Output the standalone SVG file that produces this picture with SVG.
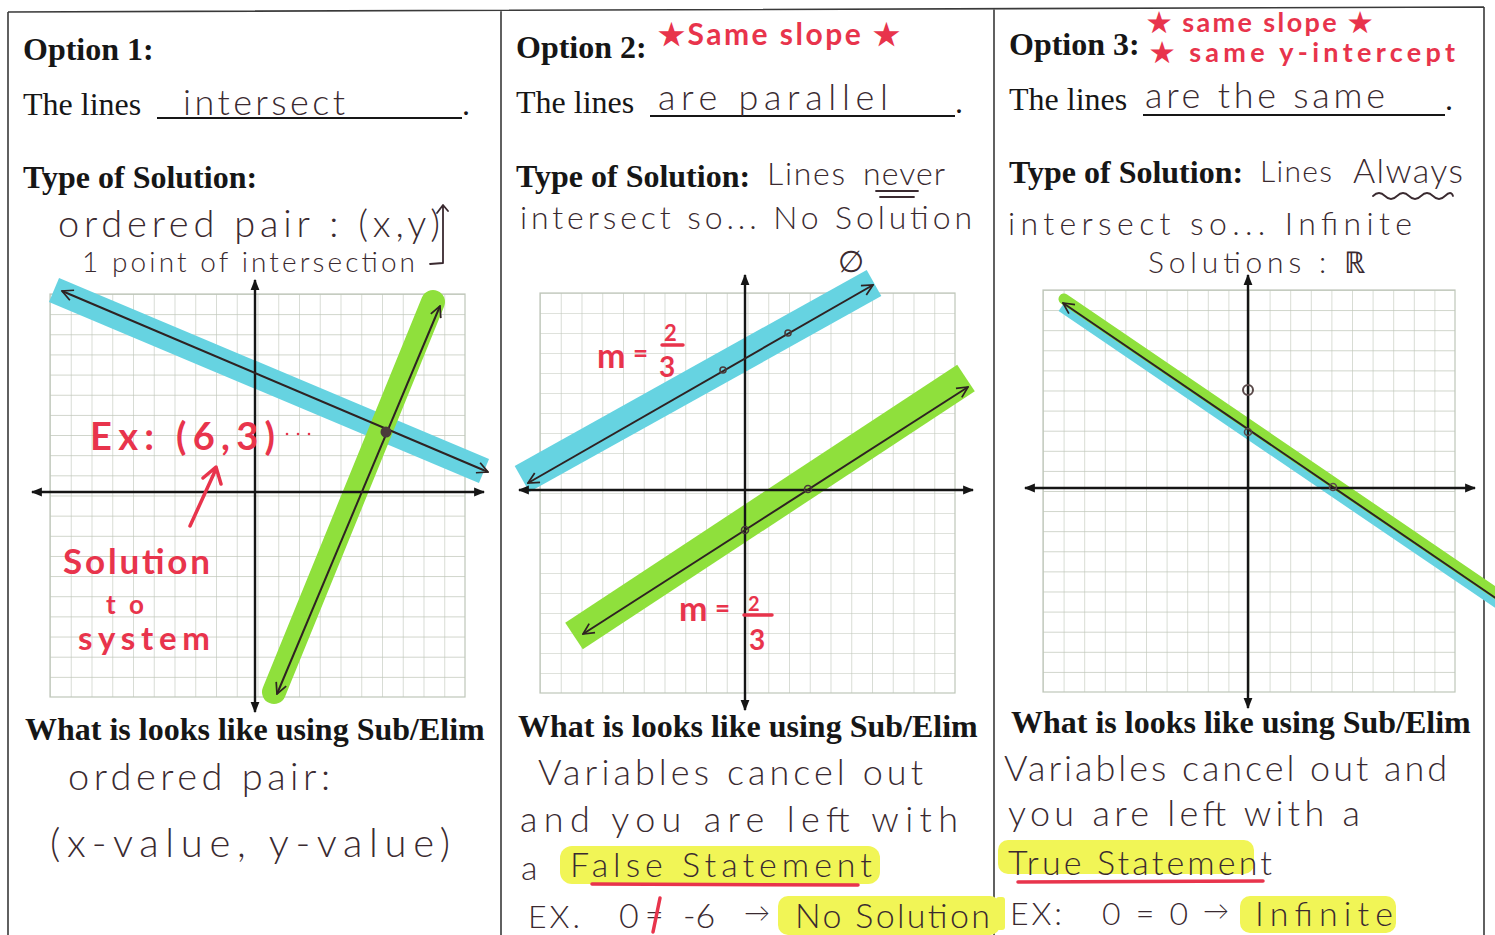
<svg xmlns="http://www.w3.org/2000/svg" width="1495" height="935" viewBox="0 0 1495 935">
<style>
.pt{font-family:"Liberation Serif","Times New Roman",serif;font-size:32px;fill:#161616}
.b{font-weight:bold}
.hw{font-family:Lato,"Open Sans",sans-serif;font-weight:300;fill:#3a2a30}
.rd{font-family:Lato,"Open Sans",sans-serif;font-weight:700;fill:#e8344c}
.frame{stroke:#3a3a3a;stroke-width:1.6;fill:none}
.axis{stroke:#151515;stroke-width:2.4;fill:none}
.ln{stroke:#2e2222;stroke-width:2;fill:none}
.ink{stroke:#3a2a30;stroke-width:1.8;fill:none;stroke-linecap:round;stroke-linejoin:round}
.rink{stroke:#e8344c;stroke-width:3.5;fill:none;stroke-linecap:round;stroke-linejoin:round}
.cy{stroke:#66d3e1;fill:none}
.gr{stroke:#8fe03c;fill:none}
.yl{fill:#f1f556}
.gridedge{fill:none;stroke:#bfc6b9;stroke-width:1.2}
</style>
<defs>
<pattern id="g1" x="50" y="294" width="20.75" height="20.15" patternUnits="userSpaceOnUse"><path d="M0 0H20.75M0 0V20.15" stroke="#bfc6b9" stroke-width="1.2" fill="none"/></pattern>
<pattern id="g2" x="540" y="293" width="20.75" height="20" patternUnits="userSpaceOnUse"><path d="M0 0H20.75M0 0V20" stroke="#bfc6b9" stroke-width="1.2" fill="none"/></pattern>
<pattern id="g3" x="1043" y="290" width="20.6" height="20.1" patternUnits="userSpaceOnUse"><path d="M0 0H20.6M0 0V20.1" stroke="#bfc6b9" stroke-width="1.2" fill="none"/></pattern>
<marker id="ah" viewBox="0 0 10 10" refX="9" refY="5" markerWidth="11" markerHeight="11" markerUnits="userSpaceOnUse" orient="auto-start-reverse"><path d="M0,1 L10,5 L0,9 z" fill="#151515"/></marker>
<marker id="oa" viewBox="0 0 12 12" refX="11" refY="6" markerWidth="13" markerHeight="13" markerUnits="userSpaceOnUse" orient="auto-start-reverse"><path d="M1,1 L11,6 L1,11" fill="none" stroke="#2e2222" stroke-width="1.6"/></marker>
</defs>
<rect width="1495" height="935" fill="#ffffff"/>

<g id="frame">
<path class="frame" d="M8 12 L1484 7 M8 12 V935 M501 10 V935 M994 8 V935 M1484 7 V935"/>
</g>

<g id="panel1">
<text class="pt b" x="23" y="60">Option 1:</text>
<text class="pt" x="23" y="115">The lines</text>
<path d="M157 118 H462" stroke="#161616" stroke-width="2"/>
<text class="pt" x="462" y="115">.</text>
<text class="hw" x="183" y="115" font-size="36" textLength="162" lengthAdjust="spacing">intersect</text>
<text class="pt b" x="23" y="188">Type of Solution:</text>
<text class="hw" x="58" y="237" font-size="38" textLength="382" lengthAdjust="spacing">ordered pair : (x,y)</text>
<path class="ink" d="M443 207 L443 263 L430 264 M437 213 L443 205 L448 211"/>
<text class="hw" x="82" y="272" font-size="28" textLength="333" lengthAdjust="spacing">1 point of intersection</text>

<g id="graph1">
<rect x="50" y="294" width="415" height="403" fill="url(#g1)"/>
<rect class="gridedge" x="50" y="294" width="415" height="403"/>
<path class="cy" d="M54 290 L484 471" stroke-width="26"/>
<path class="gr" d="M433 302 L274 692" stroke-width="24" stroke-linecap="round"/>
<path class="axis" d="M32 492 H484" marker-start="url(#ah)" marker-end="url(#ah)"/>
<path class="axis" d="M255 280 V712" marker-start="url(#ah)" marker-end="url(#ah)"/>
<path class="ln" d="M62 291 L488 472" marker-start="url(#oa)" marker-end="url(#oa)"/>
<path class="ln" d="M440 306 L277 694" marker-start="url(#oa)" marker-end="url(#oa)"/>
<circle cx="386" cy="432" r="5.5" fill="#4a3a3a"/>
<text class="rd" x="90" y="450" font-size="38" textLength="185" lengthAdjust="spacing">Ex: (6,3)</text>
<circle cx="287" cy="434" r="1.3" fill="#e8344c"/><circle cx="298" cy="434" r="1.3" fill="#e8344c"/><circle cx="309" cy="434" r="1.3" fill="#e8344c"/>
<path class="rink" d="M190 526 L216 469 M203 478 L216 467 L221 484"/>
<text class="rd" x="63" y="574" font-size="35" textLength="147" lengthAdjust="spacing">Solution</text>
<text class="rd" x="106" y="614" font-size="26" textLength="38" lengthAdjust="spacing">to</text>
<text class="rd" x="78" y="650" font-size="33" textLength="132" lengthAdjust="spacing">system</text>
</g>

<text class="pt b" x="25" y="740">What is looks like using Sub/Elim</text>
<text class="hw" x="68" y="790" font-size="38" textLength="262" lengthAdjust="spacing">ordered pair:</text>
<text class="hw" x="50" y="857" font-size="40" textLength="400" lengthAdjust="spacing">(x-value, y-value)</text>
</g>

<g id="panel2">
<text class="pt b" x="516" y="58">Option 2:</text>
<text class="rd" x="658" y="45" font-size="30" textLength="242" lengthAdjust="spacing">★Same slope ★</text>
<text class="pt" x="516" y="113">The lines</text>
<path d="M650 116 H955" stroke="#161616" stroke-width="2"/>
<text class="pt" x="955" y="113">.</text>
<text class="hw" x="658" y="110" font-size="36" textLength="230" lengthAdjust="spacing">are parallel</text>
<text class="pt b" x="516" y="187">Type of Solution:</text>
<text class="hw" x="767" y="185" font-size="32" textLength="78" lengthAdjust="spacing">Lines</text>
<text class="hw" x="863" y="185" font-size="32" textLength="82" lengthAdjust="spacing">never</text>
<path class="ink" d="M876 191 H918 M880 197 H914"/>
<text class="hw" x="520" y="229" font-size="32" textLength="452" lengthAdjust="spacing">intersect so... No Solution</text>
<text class="hw" x="838" y="272" font-size="30">∅</text>

<g id="graph2">
<rect x="540" y="293" width="415" height="400" fill="url(#g2)"/>
<rect class="gridedge" x="540" y="293" width="415" height="400"/>
<path class="cy" d="M522 479 L874 283" stroke-width="30"/>
<path class="gr" d="M574 636 L966 378" stroke-width="32"/>
<path class="axis" d="M519 490 H973" marker-start="url(#ah)" marker-end="url(#ah)"/>
<path class="axis" d="M745 275 V710" marker-start="url(#ah)" marker-end="url(#ah)"/>
<path class="ln" d="M528 483 L873 285" marker-start="url(#oa)" marker-end="url(#oa)"/>
<path class="ln" d="M583 634 L968 387" marker-start="url(#oa)" marker-end="url(#oa)"/>
<g fill="none" stroke="#4a3a3a" stroke-width="1.6">
<circle cx="723" cy="370" r="3"/><circle cx="788" cy="333" r="3"/><circle cx="745" cy="530" r="3.5"/><circle cx="808" cy="489" r="3.5"/>
</g>
<text class="rd" x="597" y="368" font-size="34">m</text>
<text class="rd" x="633" y="362" font-size="26">=</text>
<text class="rd" x="664" y="341" font-size="22">2</text>
<path class="rink" d="M662 345 H683" stroke-width="3"/>
<text class="rd" x="659" y="377" font-size="28">3</text>
<text class="rd" x="679" y="621" font-size="34">m</text>
<text class="rd" x="715" y="617" font-size="26">=</text>
<text class="rd" x="748" y="611" font-size="20">2</text>
<path class="rink" d="M744 615 H772" stroke-width="3"/>
<text class="rd" x="749" y="650" font-size="28">3</text>
</g>

<text class="pt b" x="518" y="737">What is looks like using Sub/Elim</text>
<text class="hw" x="538" y="785" font-size="36" textLength="385" lengthAdjust="spacing">Variables cancel out</text>
<text class="hw" x="520" y="832" font-size="36" textLength="438" lengthAdjust="spacing">and you are left with</text>
<rect class="yl" x="560" y="846" width="320" height="38" rx="12"/>
<text class="hw" x="521" y="880" font-size="34">a</text>
<text class="hw" x="570" y="877" font-size="34" textLength="302" lengthAdjust="spacing">False Statement</text>
<path class="rink" d="M592 884 L858 885"/>
<rect class="yl" x="778" y="896" width="222" height="39" rx="10"/>
<text class="hw" x="528" y="928" font-size="32" textLength="52" lengthAdjust="spacing">EX.</text>
<text class="hw" x="619" y="928" font-size="34">0</text>
<text class="hw" x="645" y="926" font-size="32">=</text>
<path class="rink" d="M660 898 L653 932"/>
<text class="hw" x="683" y="928" font-size="34">-6</text>
<text class="hw" x="744" y="922" font-size="26">→</text>
<text class="hw" x="795" y="928" font-size="34" textLength="195" lengthAdjust="spacing">No Solution</text>
</g>

<g id="panel3">
<text class="pt b" x="1009" y="55">Option 3:</text>
<text class="rd" x="1147" y="32" font-size="27" textLength="225" lengthAdjust="spacing">★ same slope ★</text>
<text class="rd" x="1150" y="62" font-size="27" textLength="305" lengthAdjust="spacing">★ same y-intercept</text>
<text class="pt" x="1009" y="110">The lines</text>
<path d="M1143 115 H1445" stroke="#161616" stroke-width="2"/>
<text class="pt" x="1445" y="110">.</text>
<text class="hw" x="1145" y="108" font-size="36" textLength="240" lengthAdjust="spacing">are the same</text>
<text class="pt b" x="1009" y="183">Type of Solution:</text>
<text class="hw" x="1260" y="182" font-size="30" textLength="72" lengthAdjust="spacing">Lines</text>
<text class="hw" x="1353" y="183" font-size="34" textLength="110" lengthAdjust="spacing">Always</text>
<path class="ink" d="M1373 196 q6 -6 12 0 q6 6 12 0 q6 -6 12 0 q6 6 12 0 q6 -6 12 0 q6 6 12 0 q6 -6 8 0"/>
<text class="hw" x="1008" y="235" font-size="32" textLength="404" lengthAdjust="spacing">intersect so... Infinite</text>
<text class="hw" x="1148" y="273" font-size="30" textLength="217" lengthAdjust="spacing">Solutions : ℝ</text>

<g id="graph3">
<rect x="1043" y="290" width="412" height="402" fill="url(#g3)"/>
<rect class="gridedge" x="1043" y="290" width="412" height="402"/>
<path class="cy" d="M1062 306 L1500 604" stroke-width="12"/>
<path class="gr" d="M1064 299 L1500 596" stroke-width="11" stroke-linecap="round"/>
<path class="axis" d="M1025 488 H1475" marker-start="url(#ah)" marker-end="url(#ah)"/>
<path class="axis" d="M1248 275 V708" marker-start="url(#ah)" marker-end="url(#ah)"/>
<path class="ln" d="M1063 303 L1500 601" marker-start="url(#oa)"/>
<circle cx="1248" cy="390" r="5" fill="none" stroke="#5a4a4a" stroke-width="2"/>
<circle cx="1248" cy="432" r="3.5" fill="none" stroke="#5a4a4a" stroke-width="1.6"/>
<circle cx="1333" cy="487" r="3.5" fill="none" stroke="#5a4a4a" stroke-width="1.6"/>
</g>

<text class="pt b" x="1011" y="733">What is looks like using Sub/Elim</text>
<text class="hw" x="1004" y="781" font-size="36" textLength="443" lengthAdjust="spacing">Variables cancel out and</text>
<text class="hw" x="1008" y="826" font-size="36" textLength="352" lengthAdjust="spacing">you are left with a</text>
<rect class="yl" x="998" y="840" width="256" height="34" rx="10"/>
<text class="hw" x="1008" y="875" font-size="34" textLength="264" lengthAdjust="spacing">True Statement</text>
<path class="rink" d="M1018 882 L1263 881"/>
<rect class="yl" x="996" y="897" width="9" height="33" rx="3"/>
<rect class="yl" x="1240" y="896" width="156" height="37" rx="10"/>
<text class="hw" x="1010" y="925" font-size="32" textLength="52" lengthAdjust="spacing">EX:</text>
<text class="hw" x="1102" y="925" font-size="32" textLength="86" lengthAdjust="spacing">0=0</text>
<text class="hw" x="1203" y="920" font-size="26">→</text>
<text class="hw" x="1255" y="926" font-size="34" textLength="138" lengthAdjust="spacing">Infinite</text>
</g>
</svg>
